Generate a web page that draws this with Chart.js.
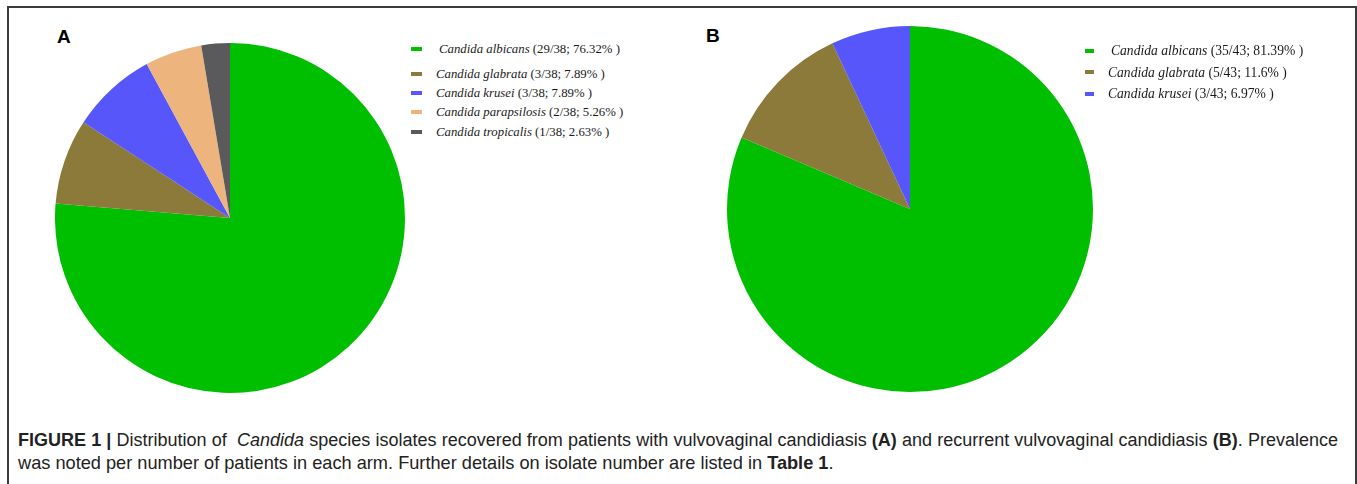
<!DOCTYPE html>
<html>
<head>
<meta charset="utf-8">
<title>Candida species distribution</title>
<script src="https://cdn.jsdelivr.net/npm/chart.js@4/dist/chart.umd.min.js"></script>
<style>
    html, body {
        margin: 0;
        padding: 0;
        background: #ffffff;
    }
    body {
        position: relative;
        width: 1357px;
        height: 484px;
        overflow: hidden;
    }
    .marco {
        position: absolute;
        left: 7px;
        top: 6px;
        width: 1346px;
        height: 490px;
        border: 2px solid #3c3c3c;
        border-bottom: none;
    }
    .panel-label {
        position: absolute;
        font-family: "Liberation Sans", Arial, sans-serif;
        font-weight: bold;
        font-size: 19px;
        line-height: 19px;
        color: #000;
    }
    .pie-box {
        position: absolute;
    }
    .leyenda {
        position: absolute;
        font-family: "Liberation Serif", "Times New Roman", serif;
        color: #1a1a1a;
        white-space: pre;
    }
    .leyenda .fila {
        position: absolute;
        left: 0;
        line-height: 16px;
    }
    .leyenda .marca {
        display: inline-block;
        height: 4px;
        vertical-align: middle;
        position: relative;
        top: -1px;
    }
    .leyenda i {
        font-style: italic;
    }
    .pie-texto {
        position: absolute;
        left: 18px;
        font-family: "Liberation Sans", Arial, sans-serif;
        font-size: 18px;
        line-height: 23px;
        color: #222;
        white-space: nowrap;
    }
    .linea1 {
        top: 429px;
        width: 1320px;
        text-align: justify;
        text-align-last: justify;
    }
    .linea2 {
        top: 452px;
        font-size: 18.2px;
    }
</style>
</head>
<body>

<div class="marco"></div>

<div class="panel-label" style="left:57px; top:27px;">A</div>
<div class="panel-label" style="left:706px; top:26px;">B</div>

<div class="pie-box" id="box-a" style="left:55px; top:43px; width:350px; height:350px;">
    <canvas id="pie-a"></canvas>
</div>
<div class="pie-box" id="box-b" style="left:727px; top:26px; width:366px; height:366px;">
    <canvas id="pie-b"></canvas>
</div>

<div class="leyenda" id="leyenda-a" style="left:411px; top:41px; font-size:12.8px;"></div>
<div class="leyenda" id="leyenda-b" style="left:1085px; top:43px; font-size:13.6px;"></div>

<div class="pie-texto linea1"><b>FIGURE 1 |</b> Distribution of &nbsp;<i>Candida</i> species isolates recovered from patients with vulvovaginal candidiasis <b>(A)</b> and recurrent vulvovaginal candidiasis <b>(B)</b>. Prevalence</div>
<div class="pie-texto linea2">was noted per number of patients in each arm. Further details on isolate number are listed in <b>Table 1</b>.</div>

<script>
// Datos del panel A (candidiasis vulvovaginal)
const especiesA = ['Candida albicans', 'Candida glabrata', 'Candida krusei', 'Candida parapsilosis', 'Candida tropicalis'];
const aislamientosA = [29, 3, 3, 2, 1];
const totalA = 38;
const porcentajesA = ['76.32%', '7.89%', '7.89%', '5.26%', '2.63%'];

// Datos del panel B (candidiasis vulvovaginal recurrente)
const especiesB = ['Candida albicans', 'Candida glabrata', 'Candida krusei'];
const aislamientosB = [35, 5, 3];
const totalB = 43;
const porcentajesB = ['81.39%', '11.6%', '6.97%'];

// Colores por especie
const coloresEspecie = {
    'Candida albicans': '#00be00',
    'Candida glabrata': '#8b7a39',
    'Candida krusei': '#5656fa',
    'Candida parapsilosis': '#edb47d',
    'Candida tropicalis': '#5a5a5c'
};

// Posiciones verticales de las filas de la leyenda (px dentro de la leyenda)
const filasA = [0, 25, 44, 63, 83];
const filasB = [0, 21.5, 43];

function crearPie(canvasId, especies, valores) {
    const ctx = document.getElementById(canvasId).getContext('2d');
    return new Chart(ctx, {
        type: 'pie',
        data: {
            labels: especies,
            datasets: [{
                data: valores,
                backgroundColor: especies.map(e => coloresEspecie[e]),
                borderWidth: 0,
                hoverOffset: 0,
                offset: 0
            }]
        },
        options: {
            responsive: true,
            maintainAspectRatio: false,
            animation: false,
            layout: { padding: 0 },
            plugins: {
                legend: { display: false },
                tooltip: {
                    callbacks: {
                        label: function(context) {
                            return `${context.label}: ${context.raw}`;
                        }
                    }
                }
            }
        }
    });
}

function crearLeyenda(contId, especies, valores, total, porcentajes, filas, anchoMarca, sangria) {
    const cont = document.getElementById(contId);
    especies.forEach((especie, i) => {
        const fila = document.createElement('div');
        fila.className = 'fila';
        fila.style.top = filas[i] + 'px';

        const marca = document.createElement('span');
        marca.className = 'marca';
        marca.style.width = anchoMarca + 'px';
        marca.style.background = coloresEspecie[especie];
        // la primera fila va un poco más sangrada, como en el original
        marca.style.marginRight = (i === 0 ? 14 + sangria : 14) + 'px';
        fila.appendChild(marca);

        const nombre = document.createElement('i');
        nombre.textContent = especie;
        fila.appendChild(nombre);

        const detalle = document.createElement('span');
        detalle.textContent = ` (${valores[i]}/${total}; ${porcentajes[i]} )`;
        fila.appendChild(detalle);

        cont.appendChild(fila);
    });
}

crearPie('pie-a', especiesA, aislamientosA);
crearPie('pie-b', especiesB, aislamientosB);

crearLeyenda('leyenda-a', especiesA, aislamientosA, totalA, porcentajesA, filasA, 11, 3);
crearLeyenda('leyenda-b', especiesB, aislamientosB, totalB, porcentajesB, filasB, 9, 3);
</script>
</body>
</html>
